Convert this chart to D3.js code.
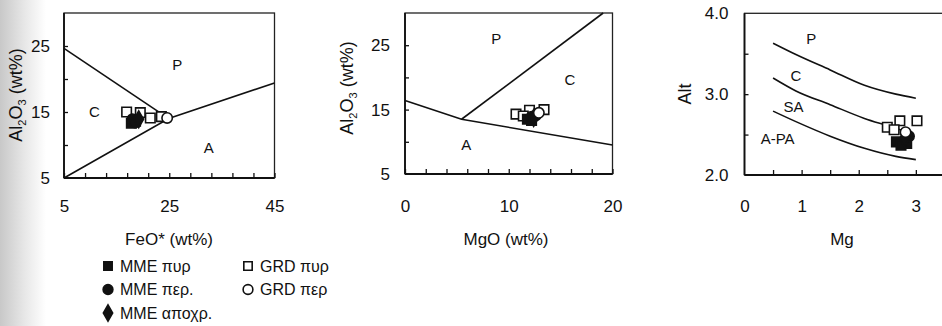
<!DOCTYPE html>
<html>
<head>
<meta charset="utf-8">
<script src="https://cdnjs.cloudflare.com/ajax/libs/d3/7.8.5/d3.min.js"></script>
<style>
  html, body { margin: 0; padding: 0; background: #fff; }
  svg { display: block; font-family: "Liberation Sans", Arial, sans-serif; }
</style>
</head>
<body>
<div id="chart"></div>
<script>
// ---- data ----
// boundary lines, FeO* vs Al2O3
const feoLinePC = [[5, 24.65], [24.9, 14.0]];
const feoLineA = [[5, 5], [24.9, 14.0], [45, 19.4]];
// boundary lines, MgO vs Al2O3
const mgoLineA = [[0, 16.4], [5.45, 13.5], [20, 9.5]];
const mgoLinePC = [[5.45, 13.5], [19.1, 30]];
// curves, Mg vs Alt
const altCurveP = [[0.5, 3.63], [0.9, 3.49], [1.5, 3.30], [2.1, 3.11], [2.65, 3.00], [3.0, 2.95]];
const altCurveC = [[0.5, 3.20], [0.9, 3.04], [1.5, 2.87], [2.1, 2.70], [2.5, 2.61], [2.9, 2.52]];
const altCurveA = [[0.5, 2.79], [0.9, 2.66], [1.5, 2.48], [2.1, 2.33], [2.65, 2.23], [3.0, 2.19]];

// samples [x, y] per panel
const grdPyrFeo = [[16.9, 15.0], [19.5, 14.9], [21.4, 14.1], [23.5, 14.3]];
const grdPerFeo = [[24.6, 14.1]];
const mmePyrFeo = [[17.8, 13.3], [18.6, 13.6]];
const mmePerFeo = [[18.0, 13.9], [18.5, 13.4]];
const mmeApoFeo = [[19.2, 13.9]];

const grdPyrMgo = [[10.7, 14.3], [12.0, 14.9], [13.4, 15.0], [11.4, 14.0]];
const grdPerMgo = [[12.9, 14.5]];
const mmePyrMgo = [[11.8, 13.5], [12.2, 13.3]];
const mmePerMgo = [[12.6, 14.1], [12.2, 13.9]];
const mmeApoMgo = [[12.4, 13.7]];

const grdPyrAlt = [[2.50, 2.59], [2.72, 2.67], [3.02, 2.67], [2.62, 2.56]];
const grdPerAlt = [[2.82, 2.53]];
const mmePyrAlt = [[2.66, 2.41], [2.84, 2.39], [2.74, 2.37]];
const mmePerAlt = [[2.88, 2.48]];
const mmeApoAlt = [[2.80, 2.45]];

// ticks
const feoTicks = d3.range(5, 46, 4), feoLabels = [5, 25, 45];
const al2o3Ticks = [10, 15, 20, 25], al2o3Labels = [5, 15, 25];
const mgoTicks = d3.range(0, 21, 2), mgoLabels = [0, 10, 20];
const mgTicks = [0.5, 1, 1.5, 2, 2.5, 3], mgLabels = [0, 1, 2, 3];
const altTicks = [2.5, 3, 3.5], altLabels = [2, 3, 4];

const legendLabels = ['MME πυρ', 'MME περ.', 'MME αποχρ.', 'GRD πυρ', 'GRD περ'];

const width = 942, height = 326;
const svg = d3.select('#chart').append('svg')
  .attr('width', width).attr('height', height);

// faint scanned page edge on the left
const grad = svg.append('defs').append('linearGradient').attr('id', 'edge');
grad.append('stop').attr('offset', '0%').attr('stop-color', '#c8c8c8');
grad.append('stop').attr('offset', '55%').attr('stop-color', '#e8e8e8');
grad.append('stop').attr('offset', '100%').attr('stop-color', '#fff');
svg.append('rect').attr('x', 0).attr('y', 0).attr('width', 46).attr('height', height)
  .attr('fill', 'url(#edge)');

const sym = {
  square: d3.symbol().type(d3.symbolSquare).size(90),
  circle: d3.symbol().type(d3.symbolCircle).size(85),
  diamond: d3.symbol().type(d3.symbolDiamond).size(80)
};

function drawMarks(g, x, y, pts, shape, filled) {
  g.selectAll(null).data(pts).enter().append('path')
    .attr('d', sym[shape])
    .attr('transform', d => `translate(${x(d[0])},${y(d[1])})`)
    .attr('fill', filled ? '#111' : '#fff')
    .attr('stroke', '#111')
    .attr('stroke-width', 1.6);
}

function panel(cfg) {
  const x = d3.scaleLinear().domain(cfg.xDomain).range(cfg.xRange);
  const y = d3.scaleLinear().domain(cfg.yDomain).range(cfg.yRange);
  const g = svg.append('g');

  // frame
  g.append('rect')
    .attr('x', cfg.xRange[0]).attr('y', cfg.yRange[1])
    .attr('width', cfg.xRange[1] - cfg.xRange[0])
    .attr('height', cfg.yRange[0] - cfg.yRange[1])
    .attr('fill', 'none').attr('stroke', '#222').attr('stroke-width', 1.3);
  g.append('line')
    .attr('x1', cfg.xRange[0]).attr('x2', cfg.xRange[1])
    .attr('y1', cfg.yRange[0]).attr('y2', cfg.yRange[0])
    .attr('stroke', '#111').attr('stroke-width', 2);
  g.append('line')
    .attr('x1', cfg.xRange[0]).attr('x2', cfg.xRange[0])
    .attr('y1', cfg.yRange[0]).attr('y2', cfg.yRange[1])
    .attr('stroke', '#111').attr('stroke-width', 1.8);

  // inner ticks
  g.append('g')
    .attr('transform', `translate(0,${cfg.yRange[0]})`)
    .call(d3.axisBottom(x).tickValues(cfg.xTicks).tickSize(-5).tickFormat(''))
    .call(a => a.select('.domain').remove())
    .call(a => a.selectAll('line').attr('stroke', '#111').attr('stroke-width', 1.3));
  g.append('g')
    .attr('transform', `translate(${cfg.xRange[0]},0)`)
    .call(d3.axisLeft(y).tickValues(cfg.yTicks).tickSize(-4).tickFormat(''))
    .call(a => a.select('.domain').remove())
    .call(a => a.selectAll('line').attr('stroke', '#111').attr('stroke-width', 1.3));

  // tick labels
  g.append('g')
    .attr('transform', `translate(0,${cfg.yRange[0]})`)
    .call(d3.axisBottom(x).tickValues(cfg.xLabels).tickSize(0)
      .tickPadding(200 - cfg.yRange[0]).tickFormat(cfg.xFormat || d3.format('d')))
    .call(a => a.select('.domain').remove())
    .call(a => a.selectAll('text').attr('font-size', 17).attr('fill', '#111')
      .attr('font-family', '"Liberation Sans", Arial, sans-serif'));
  g.append('g')
    .attr('transform', `translate(${cfg.xRange[0]},0)`)
    .call(d3.axisLeft(y).tickValues(cfg.yLabels).tickSize(0)
      .tickPadding(cfg.yPad).tickFormat(cfg.yFormat || d3.format('d')))
    .call(a => a.select('.domain').remove())
    .call(a => a.selectAll('text').attr('font-size', 17).attr('fill', '#111')
      .attr('font-family', '"Liberation Sans", Arial, sans-serif'));

  // axis titles
  g.append('text')
    .attr('x', cfg.xTitleX).attr('y', 245)
    .attr('text-anchor', 'middle').attr('font-size', 17).attr('fill', '#111')
    .text(cfg.xTitle);
  const yt = g.append('text')
    .attr('transform', `translate(${cfg.yTitleX},${cfg.yTitleY}) rotate(-90)`)
    .attr('text-anchor', 'middle').attr('font-size', 18).attr('fill', '#111');
  cfg.yTitle.forEach(p => {
    const t = yt.append('tspan').text(p[0]);
    if (p[1]) t.attr('font-size', 11).attr('dy', 4);
    else if (p[2]) t.attr('dy', -4);
  });

  // boundary lines
  const line = d3.line().x(d => x(d[0])).y(d => y(d[1])).curve(cfg.curve || d3.curveLinear);
  g.selectAll(null).data(cfg.lines).enter().append('path')
    .attr('d', line).attr('fill', 'none')
    .attr('stroke', '#111').attr('stroke-width', 1.6);

  // field labels
  g.selectAll(null).data(cfg.fields).enter().append('text')
    .attr('x', d => x(d[1])).attr('y', d => y(d[2]))
    .attr('dy', '0.35em').attr('text-anchor', 'middle')
    .attr('font-size', 15).attr('fill', '#111')
    .text(d => d[0]);

  // samples
  const s = cfg.samples;
  drawMarks(g, x, y, s.grdPyr, 'square', false);
  drawMarks(g, x, y, s.mmePyr, 'square', true);
  drawMarks(g, x, y, s.mmePer, 'circle', true);
  drawMarks(g, x, y, s.mmeApo, 'diamond', true);
  drawMarks(g, x, y, s.grdPer, 'circle', false);
}

panel({
  xDomain: [5, 45], xRange: [64, 274.5],
  yDomain: [5, 30], yRange: [178, 13],
  xTicks: feoTicks, xLabels: feoLabels,
  yTicks: al2o3Ticks, yLabels: al2o3Labels, yPad: 14,
  xTitle: 'FeO* (wt%)', xTitleX: 169,
  yTitle: [['Al'], ['2', true], ['O', false, true], ['3', true], [' (wt%)', false, true]],
  yTitleX: 22, yTitleY: 95,
  lines: [feoLinePC, feoLineA],
  fields: [['P', 26.5, 22.2], ['C', 10.8, 15.05], ['A', 32.5, 9.6]],
  samples: { grdPyr: grdPyrFeo, grdPer: grdPerFeo, mmePyr: mmePyrFeo, mmePer: mmePerFeo, mmeApo: mmeApoFeo }
});

panel({
  xDomain: [0, 20], xRange: [405, 612.5],
  yDomain: [5, 30], yRange: [174, 13],
  xTicks: mgoTicks, xLabels: mgoLabels,
  yTicks: al2o3Ticks, yLabels: al2o3Labels, yPad: 15,
  xTitle: 'MgO (wt%)', xTitleX: 506,
  yTitle: [['Al'], ['2', true], ['O', false, true], ['3', true], [' (wt%)', false, true]],
  yTitleX: 353, yTitleY: 88,
  lines: [mgoLineA, mgoLinePC],
  fields: [['P', 8.8, 26.0], ['C', 15.9, 19.7], ['A', 5.9, 9.6]],
  samples: { grdPyr: grdPyrMgo, grdPer: grdPerMgo, mmePyr: mmePyrMgo, mmePer: mmePerMgo, mmeApo: mmeApoMgo }
});

panel({
  xDomain: [0, 3.5], xRange: [744.5, 944.4],
  yDomain: [2, 4], yRange: [175, 13.3],
  xTicks: mgTicks, xLabels: mgLabels, xFormat: d3.format('d'),
  yTicks: altTicks, yLabels: altLabels, yPad: 16, yFormat: d3.format('.1f'),
  xTitle: 'Mg', xTitleX: 842,
  yTitle: [['Alt']],
  yTitleX: 691, yTitleY: 94,
  lines: [altCurveP, altCurveC, altCurveA], curve: d3.curveMonotoneX,
  fields: [['P', 1.17, 3.68], ['C', 0.9, 3.23], ['SA', 0.86, 2.85], ['A-PA', 0.58, 2.45]],
  samples: { grdPyr: grdPyrAlt, grdPer: grdPerAlt, mmePyr: mmePyrAlt, mmePer: mmePerAlt, mmeApo: mmeApoAlt }
});

// legend
const legendShapes = [['square', true], ['circle', true], ['diamond', true], ['square', false], ['circle', false]];
const legendX = d3.scalePoint().domain([0, 1]).range([108, 248]);
const legendY = d3.scalePoint().domain([0, 1, 2]).range([266, 313]);
const legendPos = [[0, 0], [0, 1], [0, 2], [1, 0], [1, 1]];
const lg = svg.append('g');
legendLabels.forEach((label, i) => {
  const cx = legendX(legendPos[i][0]), cy = legendY(legendPos[i][1]);
  const [shape, filled] = legendShapes[i];
  lg.append('path')
    .attr('d', d3.symbol().type(shape === 'square' ? d3.symbolSquare :
      shape === 'circle' ? d3.symbolCircle : d3.symbolDiamond)
      .size(shape === 'square' ? 70 : 75))
    .attr('transform', `translate(${cx},${cy})`)
    .attr('fill', filled ? '#111' : '#fff')
    .attr('stroke', '#111').attr('stroke-width', 1.6);
  lg.append('text')
    .attr('x', cx + 12).attr('y', cy).attr('dy', '0.36em')
    .attr('font-size', 16).attr('fill', '#111')
    .text(label);
});
</script>
</body>
</html>
